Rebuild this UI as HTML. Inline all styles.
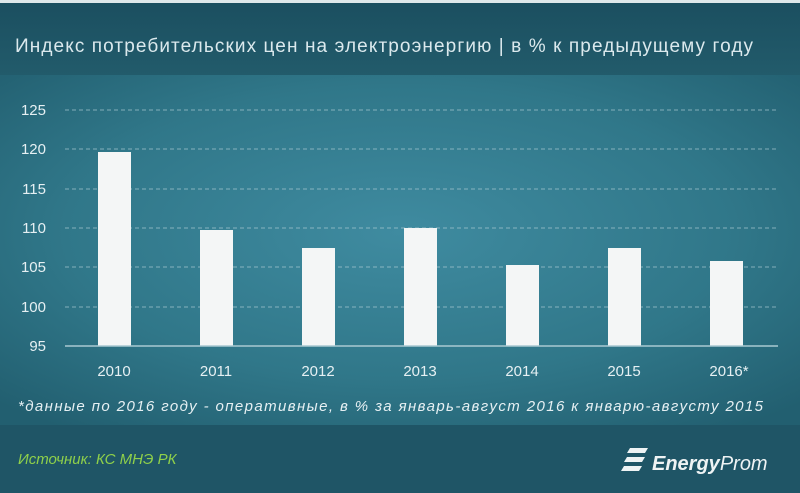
<!DOCTYPE html>
<html><head><meta charset="utf-8"><style>
body{margin:0;width:800px;height:488px;overflow:hidden;background:#1f5566;font-family:"Liberation Sans",sans-serif}
</style></head><body>
<svg width="800" height="488" xmlns="http://www.w3.org/2000/svg">
<defs>
<radialGradient id="g" cx="0.5" cy="0.45" r="0.7">
<stop offset="0" stop-color="#3f8ba0"/><stop offset="0.6" stop-color="#307789"/><stop offset="1" stop-color="#225f70"/>
</radialGradient>
<linearGradient id="t" x1="0" y1="0" x2="0" y2="1"><stop offset="0" stop-color="#1b4f60"/><stop offset="1" stop-color="#225b6b"/></linearGradient>
</defs>
<rect width="800" height="488" fill="#1f5566"/>
<rect width="800" height="3" fill="#dfe8ea"/>
<rect y="3" width="800" height="72" fill="url(#t)"/>
<rect x="0" y="75" width="800" height="350" fill="url(#g)"/>
<text x="15" y="52" font-size="19" fill="#dbe9ed" textLength="738">Индекс потребительских цен на электроэнергию  | в % к предыдущему  году</text>
<g stroke="#a9c9d2" stroke-dasharray="4,3" stroke-width="1" opacity="0.7">
<line x1="65" x2="778" y1="110" y2="110"/><line x1="65" x2="778" y1="149" y2="149"/>
<line x1="65" x2="778" y1="189" y2="189"/><line x1="65" x2="778" y1="228" y2="228"/>
<line x1="65" x2="778" y1="267" y2="267"/><line x1="65" x2="778" y1="307" y2="307"/>
</g>
<g font-size="15" fill="#e6f0f3" text-anchor="end">
<text x="46" y="115">125</text><text x="46" y="154">120</text><text x="46" y="194">115</text>
<text x="46" y="233">110</text><text x="46" y="272">105</text><text x="46" y="312">100</text><text x="46" y="351">95</text>
</g>
<g fill="#f4f6f6">
<rect x="98" y="152" width="33" height="194"/>
<rect x="200" y="230" width="33" height="116"/>
<rect x="302" y="248" width="33" height="98"/>
<rect x="404" y="228" width="33" height="118"/>
<rect x="506" y="265" width="33" height="81"/>
<rect x="608" y="248" width="33" height="98"/>
<rect x="710" y="261" width="33" height="85"/>
</g>
<line x1="65" x2="778" y1="346" y2="346" stroke="#a9c9d2" stroke-width="1.5"/>
<g font-size="15" fill="#e6f0f3" text-anchor="middle">
<text x="114" y="376">2010</text><text x="216" y="376">2011</text><text x="318" y="376">2012</text>
<text x="420" y="376">2013</text><text x="522" y="376">2014</text><text x="624" y="376">2015</text><text x="729" y="376">2016*</text>
</g>
<text x="18" y="411" font-size="15" font-style="italic" fill="#e6f0f3" textLength="745">*данные  по 2016 году - оперативные, в % за январь-август 2016 к январю-августу 2015</text>
<text x="18" y="464" font-size="15" font-style="italic" fill="#8fd04a">Источник: КС МНЭ РК</text>
<g fill="#eef3f4">
<path d="M630 448 h18 l-3 5 h-18 z M627 457 h18 l-3 5 h-18 z M624 466 h18 l-3 5 h-18 z"/>
<text x="652" y="470" font-size="20" font-style="italic" font-weight="bold">Energy<tspan font-weight="normal">Prom</tspan></text>
</g>
</svg>
</body></html>
